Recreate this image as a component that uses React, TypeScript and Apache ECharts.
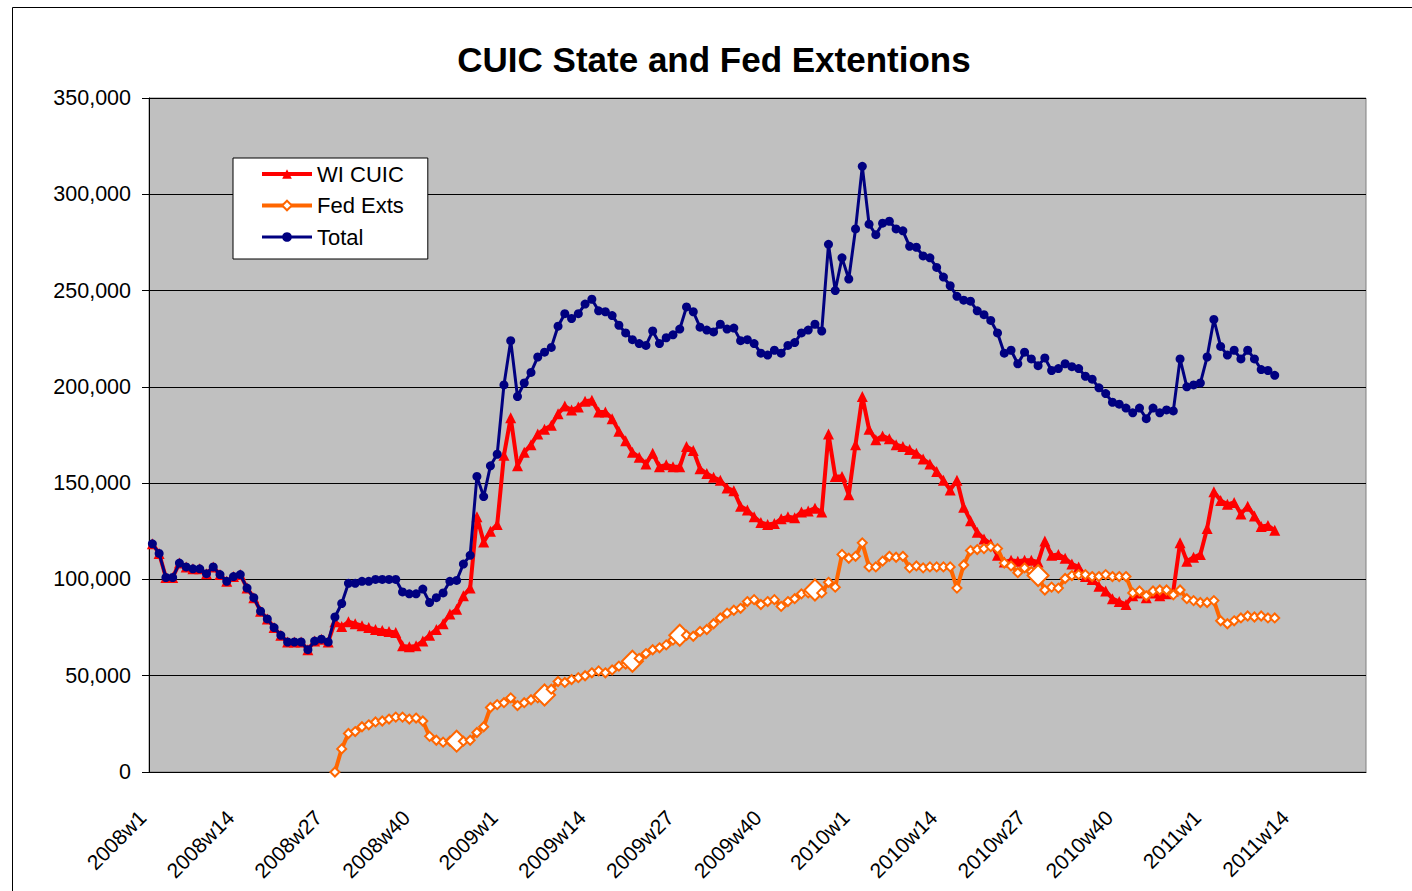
import React, { useEffect, useRef } from "react";
import * as echarts from "echarts";

const FONT = "'Liberation Sans', Arial, sans-serif";

// Category labels: weekly, 52 weeks per year, 180 categories on the axis
const YEARS = [2008, 2009, 2010, 2011];
const WEEKS = 52;
const N_CATEGORIES = 180;
const categories: string[] = [];
for (const y of YEARS) for (let w = 1; w <= WEEKS; w++) categories.push(`${y}w${w}`);
const xCategories = categories.slice(0, N_CATEGORIES);

const yTicks = [0, 50000, 100000, 150000, 200000, 250000, 300000, 350000];

const total = [
  118500, 113500, 101000, 101000, 108500, 106500, 105500, 105500, 103000, 106500,
  102500, 99000, 101500, 102500, 95500, 90500, 83500, 79500, 75000, 71000,
  67500, 67500, 67500, 63500, 68000, 69000, 67500, 80500, 87500, 98000,
  98000, 99000, 99000, 100000, 100000, 100000, 100000, 93500, 92500, 92500,
  95000, 88000, 90500, 93000, 99000, 99500, 108000, 112500, 153500, 143000,
  159000, 165000, 201000, 224000, 195000, 202000, 207500, 215500, 218000, 220500,
  231500, 238000, 235500, 238000, 243000, 245500, 239500, 239000, 237000, 232000,
  228000, 224500, 222500, 221500, 229000, 222500, 225500, 227000, 230000, 241500,
  239000, 231000, 229500, 228500, 232500, 230000, 230500, 224000, 224500, 222500,
  217500, 216500, 219000, 217500, 221500, 223000, 228000, 229500, 232500, 229000,
  274000, 250000, 267000, 256000, 282000, 314500, 284500, 279000, 285000, 286000,
  282000, 281000, 273000, 272500, 268000, 267000, 262000, 257000, 252500, 247000,
  245000, 244500, 239500, 237500, 234500, 228000, 217500, 219000, 212000, 218000,
  214500, 211000, 215000, 208500, 209500, 212000, 210500, 209500, 205500, 204000,
  199500, 196500, 192000, 191000, 189000, 186500, 189000, 183500, 189000, 186500,
  188000, 187500, 214500, 200000, 201000, 202000, 215500, 235000, 221000, 216500,
  219000, 214500, 219000, 214500, 209000, 208500, 206000,
];

const wiCuic = [
  118500, 113500, 101000, 101000, 108500, 106500, 105500, 105500, 103000, 106500,
  102500, 99000, 101500, 102500, 95500, 90500, 83500, 79500, 75000, 71000,
  67500, 67500, 67500, 63500, 68000, 69000, 67500, 78000, 75500, 78000,
  77000, 76000, 75000, 74000, 73500, 73000, 72500, 65500, 65000, 65500,
  68000, 71000, 74000, 77000, 82000, 84500, 91500, 95500, 132500, 119500,
  125000, 128500, 164500, 184000, 159000, 166000, 170000, 175500, 178000, 180000,
  186000, 190000, 188000, 189500, 192500, 193000, 187000, 187000, 183500, 177000,
  172000, 166000, 163500, 160000, 165500, 158500, 159500, 158500, 158500, 169000,
  167000, 157500, 155000, 153000, 151500, 147500, 146000, 138000, 136000, 132500,
  129500, 128500, 129000, 131500, 132500, 132000, 135000, 135500, 137000, 135000,
  175500, 153500, 153500, 144000, 170000, 195000, 178000, 172500, 174500, 173000,
  170000, 169000, 167500, 165500, 162500, 160000, 156000, 151500, 146500, 151500,
  137500, 130500, 124500, 121000, 118500, 112500, 109000, 110000, 109500, 110000,
  110000, 109000, 120000, 112500, 113000, 111000, 108000, 106500, 101500, 100000,
  96500, 94000, 90000, 88500, 87000, 91500, 93000, 90500, 93000, 91500,
  92500, 94000, 119000, 109500, 111500, 113000, 126500, 145500, 141000, 139000,
  140000, 134000, 138000, 133000, 127500, 128000, 125500,
];

// Fed extensions begin at category index 27 (2008w28)
const FED_START = 27;
const fedExts = [
  0, 12000, 20000,
  21000, 23500, 24500, 26000, 26500, 27500, 28500, 28500, 27500, 28000,
  26500, 18500, 16500, 15500, 16000, 16000, 16000, 16500, 20500, 23500,
  33500, 35000, 36000, 38500, 34500, 36000, 37500, 38500, 40000, 43000,
  47000, 46500, 48000, 49000, 50000, 51500, 52500, 51500, 53000, 55000,
  56000, 57500, 59000, 61500, 63500, 64500, 66000, 68500, 71000, 71000,
  70500, 73000, 74000, 77000, 80000, 82500, 84000, 85000, 88500, 89500,
  87000, 88500, 89500, 86000, 88500, 90000, 92500, 93000, 94500, 93000,
  98500, 96000, 113000, 111000, 112000, 119000, 106500, 106500, 109500, 112000,
  111500, 112000, 106000, 107000, 106000, 106500, 106500, 106500, 106500, 95500,
  107500, 115000, 115500, 116000, 117000, 116000, 108500, 107000, 103500, 106000,
  104000, 102000, 94500, 96000, 95500, 100500, 102000, 102500, 102500, 101500,
  101500, 102500, 101500, 101500, 101500, 93000, 94000, 91500, 94000, 94500,
  94500, 92000, 94500, 90000, 89000, 88000, 88000, 89000, 78500, 77000,
  78500, 80000, 81000, 80500, 81000, 80000, 80000,
];
// points drawn with an enlarged marker in the original
const fedBigMarkers = [45, 58, 71, 78, 98, 131];

export default function App() {
  const ref = useRef<HTMLDivElement>(null);
  useEffect(() => {
    if (!ref.current) return;
    const chart = echarts.init(ref.current, null, { renderer: "svg" });

    const fedData: any[] = [];
    for (let i = 0; i < FED_START; i++) fedData.push(null);
    fedExts.forEach((v, k) => {
      const idx = FED_START + k;
      if (fedBigMarkers.includes(idx)) fedData.push({ value: v, symbolSize: 21 });
      else fedData.push(v);
    });

    chart.setOption({
      animation: false,
      backgroundColor: "#ffffff",
      textStyle: { fontFamily: FONT },
      title: {
        text: "CUIC State and Fed Extentions",
        left: 709,
        top: 37,
        textAlign: "center",
        textStyle: { fontFamily: FONT, fontSize: 35, fontWeight: "bold", color: "#000" },
      },
      legend: {
        orient: "vertical",
        left: 233,
        top: 158,
        backgroundColor: "#ffffff",
        borderColor: "#000",
        borderWidth: 1,
        padding: [5, 24, 11, 27],
        itemGap: 9.5,
        itemWidth: 50,
        itemHeight: 12,
        textStyle: { fontFamily: FONT, fontSize: 22, color: "#000" },
        data: [
          { name: "WI CUIC", lineStyle: { width: 4 } },
          { name: "Fed Exts", lineStyle: { width: 4 } },
          { name: "Total", lineStyle: { width: 3 } },
        ],
      },
      graphic: [
        {
          type: "rect",
          left: 10,
          top: 5,
          shape: { width: 1420, height: 900 },
          style: { fill: "none", stroke: "#000", lineWidth: 1 },
          silent: true,
        },
      ],
      grid: {
        left: 149,
        top: 98,
        width: 1217,
        height: 674,
        show: true,
        backgroundColor: "#C0C0C0",
        borderColor: "#808080",
        borderWidth: 1,
      },
      xAxis: {
        type: "category",
        data: xCategories,
        boundaryGap: true,
        axisLine: { lineStyle: { color: "#000", width: 1 } },
        axisTick: { interval: 0, length: 7, lineStyle: { color: "#000" } },
        axisLabel: {
          interval: 12,
          rotate: 45,
          margin: 32,
          padding: [0, 14, 0, 0],
          fontSize: 21,
          color: "#000",
          fontFamily: FONT,
        },
        splitLine: { show: false },
      },
      yAxis: {
        type: "value",
        min: yTicks[0],
        max: yTicks[yTicks.length - 1],
        interval: yTicks[1] - yTicks[0],
        axisLine: { show: true, lineStyle: { color: "#000" } },
        axisTick: { show: true, length: 7, lineStyle: { color: "#000" } },
        axisLabel: {
          margin: 18,
          fontSize: 21.5,
          color: "#000",
          fontFamily: FONT,
          formatter: (v: number) => v.toLocaleString("en-US"),
        },
        splitLine: { show: true, lineStyle: { color: "#000", width: 1 } },
      },
      series: [
        {
          name: "WI CUIC",
          type: "line",
          data: wiCuic,
          symbol: "triangle",
          symbolSize: 11,
          showAllSymbol: true,
          lineStyle: { color: "#FF0000", width: 4 },
          itemStyle: { color: "#FF0000" },
          z: 2,
        },
        {
          name: "Fed Exts",
          type: "line",
          data: fedData,
          symbol: "diamond",
          symbolSize: 9,
          showAllSymbol: true,
          lineStyle: { color: "#FF6600", width: 4 },
          itemStyle: { color: "#ffffff", borderColor: "#FF6600", borderWidth: 2 },
          z: 3,
        },
        {
          name: "Total",
          type: "line",
          data: total,
          symbol: "circle",
          symbolSize: 9,
          showAllSymbol: true,
          lineStyle: { color: "#000080", width: 3 },
          itemStyle: { color: "#000080" },
          z: 4,
        },
      ],
    });
    return () => chart.dispose();
  }, []);

  return (
    <div
      ref={ref}
      style={{ position: "absolute", left: 0, top: 0, width: 1412, height: 891 }}
    />
  );
}
